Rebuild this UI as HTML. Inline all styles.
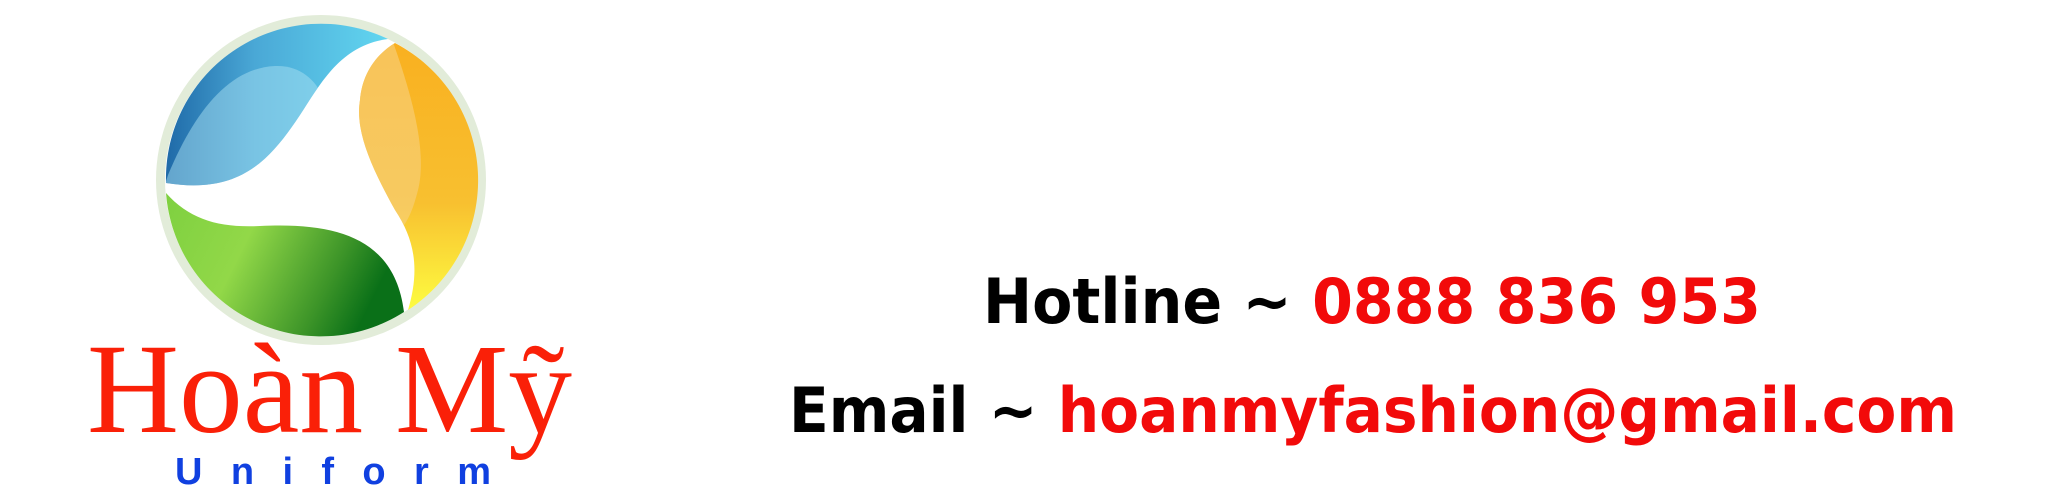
<!DOCTYPE html>
<html><head><meta charset="utf-8"><style>html,body{margin:0;padding:0;background:#fff;}svg{display:block}</style></head>
<body>
<svg width="2048" height="500" viewBox="0 0 2048 500" xmlns="http://www.w3.org/2000/svg">
<defs>
<linearGradient id="gb" x1="0" y1="0" x2="1" y2="0"><stop offset="0" stop-color="#1f6aa8"/><stop offset="0.4" stop-color="#4aa8d6"/><stop offset="1" stop-color="#62d6f0"/></linearGradient>
<linearGradient id="go" x1="0" y1="0" x2="0" y2="1"><stop offset="0" stop-color="#f9b020"/><stop offset="0.6" stop-color="#f8c030"/><stop offset="1" stop-color="#fdfc40"/></linearGradient>
<linearGradient id="gg" x1="0" y1="0" x2="1" y2="0.3"><stop offset="0" stop-color="#7ed040"/><stop offset="0.4" stop-color="#92d848"/><stop offset="0.8" stop-color="#3c9428"/><stop offset="1" stop-color="#0a7018"/></linearGradient>
<clipPath id="cb"><path d="M166,183 A155,155 0 0 1 388,39 C340,45 320,85 300,115 C270,160 240,195 166,183 Z"/></clipPath>
<clipPath id="co"><path d="M395,43 A155,155 0 0 1 408,310 C420,270 415,240 395,210 C370,165 355,130 360,100 C362,75 375,55 395,43 Z"/></clipPath>
</defs>
<circle cx="321" cy="180" r="165" fill="#e2ecd9"/>
<circle cx="321" cy="180" r="156" fill="#fff"/>
<path d="M166,183 A155,155 0 0 1 388,39 C340,45 320,85 300,115 C270,160 240,195 166,183 Z" fill="url(#gb)"/>
<path clip-path="url(#cb)" d="M168,175 C195,110 230,68 275,66 C300,65 315,80 322,95 L330,200 L160,200 Z" fill="#a8e0f2" opacity="0.5"/>
<path d="M395,43 A155,155 0 0 1 408,310 C420,270 415,240 395,210 C370,165 355,130 360,100 C362,75 375,55 395,43 Z" fill="url(#go)"/>
<path clip-path="url(#co)" d="M393,42 C410,90 428,150 418,190 C413,210 408,220 402,228 L340,228 L340,40 Z" fill="#f6d080" opacity="0.6"/>
<path d="M166,193 C190,220 220,228 260,226 C340,222 395,240 404,312 A155,155 0 0 1 166,193 Z" fill="url(#gg)"/>
<text x="87" y="432" font-family="Liberation Serif, serif" font-size="128" fill="#fa2008" textLength="485" lengthAdjust="spacingAndGlyphs">Hoàn Mỹ</text>
<text x="175" y="484" font-family="Liberation Sans, sans-serif" font-weight="bold" font-size="38" fill="#1040e0" textLength="316" lengthAdjust="spacing">Uniform</text>
<text x="983" y="323" font-family="DejaVu Sans, sans-serif" font-weight="bold" font-size="62" textLength="778" lengthAdjust="spacingAndGlyphs"><tspan fill="#000">Hotline ~ </tspan><tspan fill="#f20a0a">0888 836 953</tspan></text>
<text x="789" y="432" font-family="DejaVu Sans, sans-serif" font-weight="bold" font-size="62" textLength="1168" lengthAdjust="spacingAndGlyphs"><tspan fill="#000">Email ~ </tspan><tspan fill="#f20a0a">hoanmyfashion@gmail.com</tspan></text>
</svg>
</body></html>
